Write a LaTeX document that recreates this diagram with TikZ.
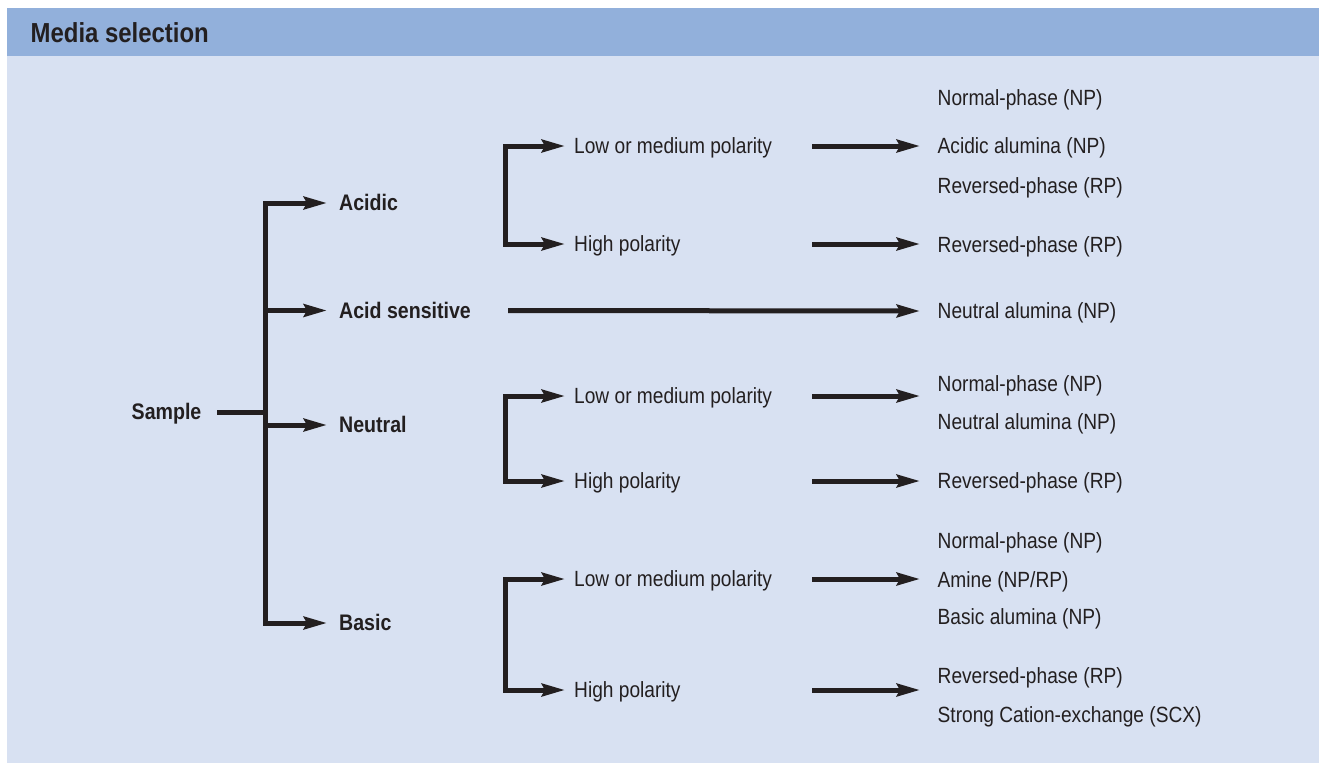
\documentclass[tikz,border=0pt]{standalone}
\usepackage{fontspec}
\setmainfont{Liberation Sans}[FakeStretch=0.87]
\usetikzlibrary{arrows.meta}
\definecolor{hdr}{RGB}{146,176,219}
\definecolor{bodybg}{RGB}{216,225,242}
\definecolor{ink}{RGB}{35,31,32}
\begin{document}
\begin{tikzpicture}[x=1pt,y=-1pt,
  ln/.style={draw=ink,line width=5pt,line join=miter},
  arr/.style={ln,-{Stealth[length=23pt,width=12.5pt,inset=3pt]}},
  lbl/.style={anchor=west,inner sep=0pt,text height=15.5pt,text depth=0pt,text=ink,font=\fontsize{22}{26}\selectfont},
  blbl/.style={lbl,text height=15.75pt,font=\fontsize{22.5}{26}\selectfont\bfseries}]
\useasboundingbox (0,0) rectangle (1319,763);
\fill[white] (0,0) rectangle (1319,763);
\fill[bodybg] (7,8) rectangle (1319,763);
\fill[hdr] (7,8) rectangle (1319,56);
\node[anchor=base west,inner sep=0pt,text=ink,font=\fontsize{27.5}{30}\selectfont\bfseries] (title) at (30.5,42) {Media selection};

% columns
\coordinate (s0) at (217,0);
\coordinate (c1) at (265.5,0);
\coordinate (c2) at (327,0);
\coordinate (a0) at (508,0);
\coordinate (c3) at (505.5,0);
\coordinate (c4) at (565,0);
\coordinate (c5) at (812,0);
\coordinate (c6) at (920,0);

% first level
\node[blbl] (sample) at (131.5,412) {Sample};
\node[blbl] (acidic) at (339,203) {Acidic};
\node[blbl] (acidsens) at (339,310.5) {Acid sensitive};
\node[blbl] (neutral) at (339,425) {Neutral};
\node[blbl] (basic) at (339,623) {Basic};

% second level
\node[lbl] (lowA) at (574,146) {Low or medium polarity};
\node[lbl] (highA) at (574,244) {High polarity};
\node[lbl] (lowN) at (574,396) {Low or medium polarity};
\node[lbl] (highN) at (574,481) {High polarity};
\node[lbl] (lowB) at (574,579) {Low or medium polarity};
\node[lbl] (highB) at (574,690) {High polarity};

% results
\node[lbl] (rA1) at (937.5,97.25) {Normal-phase (NP)};
\node[lbl] (rA2) at (937.5,145.25) {Acidic alumina (NP)};
\node[lbl] (rA3) at (937.5,185.25) {Reversed-phase (RP)};
\node[lbl] (rA4) at (937.5,244.25) {Reversed-phase (RP)};
\node[lbl] (rS1) at (937.5,311) {Neutral alumina (NP)};
\node[lbl] (rN1) at (937.5,383.25) {Normal-phase (NP)};
\node[lbl] (rN2) at (937.5,421.25) {Neutral alumina (NP)};
\node[lbl] (rN3) at (937.5,480.25) {Reversed-phase (RP)};
\node[lbl] (rB1) at (937.5,540.25) {Normal-phase (NP)};
\node[lbl] (rB2) at (937.5,579.25) {Amine (NP/RP)};
\node[lbl] (rB3) at (937.5,616.25) {Basic alumina (NP)};
\node[lbl] (rB4) at (937.5,675.25) {Reversed-phase (RP)};
\node[lbl] (rB5) at (937.5,714.25) {Strong Cation-exchange (SCX)};

% sample trunk
\draw[ln] (sample.east -| s0) -- (sample.east -| c1);
\draw[arr] (sample.east -| c1) |- (acidic.west -| c2);
\draw[arr] (sample.east -| c1) |- (acidsens.west -| c2);
\draw[arr] (sample.east -| c1) |- (neutral.west -| c2);
\draw[arr] (sample.east -| c1) |- (basic.west -| c2);

% acid sensitive
\draw[arr] (acidsens.west -| a0) -- (rS1.west -| c6);

% sub brackets
\foreach \lo/\hi in {lowA/highA,lowN/highN,lowB/highB}{
  \draw[arr] (\hi.west -| c3) |- (\lo.west -| c4);
  \draw[arr] (\lo.west -| c3) |- (\hi.west -| c4);
  \draw[arr] (\lo.west -| c5) -- (\lo.west -| c6);
  \draw[arr] (\hi.west -| c5) -- (\hi.west -| c6);
}
\end{tikzpicture}
\end{document}
